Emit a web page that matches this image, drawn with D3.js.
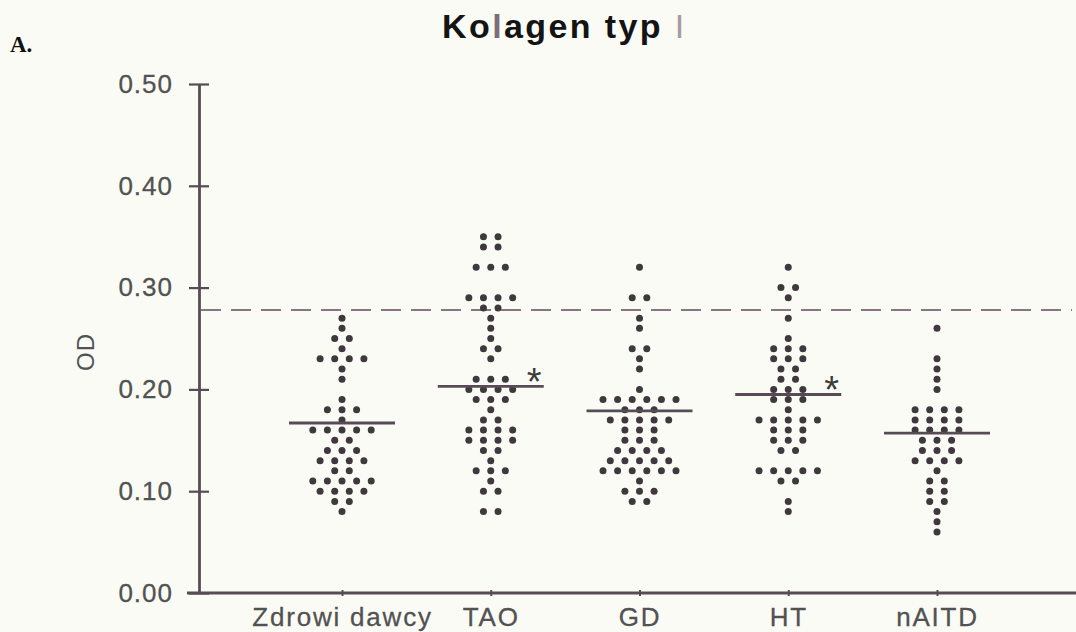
<!DOCTYPE html>
<html>
<head>
<meta charset="utf-8">
<script src="https://cdn.jsdelivr.net/npm/d3@7"></script>
<style>
  html, body { margin: 0; padding: 0; background: #fbfbf6; }
  svg { display: block; }
</style>
</head>
<body>
<svg id="chart" width="1076" height="632"></svg>
<script>
const categories = ['Zdrowi dawcy', 'TAO', 'GD', 'HT', 'nAITD']

// OD values, one entry per dot
const zdrowiDawcy = [
  0.27, 0.26, 0.25, 0.25, 0.24, 0.23, 0.23, 0.23, 0.23, 0.22, 0.21,
  0.19, 0.18, 0.18, 0.18, 0.17, 0.16, 0.16, 0.16, 0.16, 0.16,
  0.15, 0.15, 0.14, 0.14, 0.14, 0.13, 0.13, 0.13, 0.13, 0.12, 0.12,
  0.11, 0.11, 0.11, 0.11, 0.11, 0.10, 0.10, 0.10, 0.10, 0.09, 0.09, 0.08
]
const tao = [
  0.35, 0.35, 0.34, 0.34, 0.32, 0.32, 0.32, 0.29, 0.29, 0.29, 0.29,
  0.28, 0.28, 0.27, 0.26, 0.25, 0.24, 0.24, 0.23, 0.21, 0.21, 0.21,
  0.20, 0.20, 0.20, 0.20, 0.19, 0.19, 0.19, 0.18, 0.17, 0.17,
  0.16, 0.16, 0.16, 0.16, 0.15, 0.15, 0.15, 0.15, 0.14, 0.14, 0.13,
  0.12, 0.12, 0.12, 0.11, 0.10, 0.10, 0.08, 0.08
]
const gd = [
  0.32, 0.29, 0.29, 0.27, 0.26, 0.24, 0.24, 0.23, 0.22, 0.20,
  0.19, 0.19, 0.19, 0.19, 0.19, 0.19, 0.18, 0.18, 0.18,
  0.17, 0.17, 0.17, 0.17, 0.17, 0.16, 0.16, 0.16, 0.15, 0.15, 0.15,
  0.14, 0.14, 0.14, 0.14, 0.13, 0.13, 0.13, 0.13, 0.13,
  0.12, 0.12, 0.12, 0.12, 0.12, 0.12, 0.11, 0.10, 0.10, 0.10, 0.09, 0.09
]
const ht = [
  0.32, 0.30, 0.30, 0.29, 0.27, 0.25, 0.24, 0.24, 0.24, 0.23, 0.23, 0.23,
  0.22, 0.22, 0.21, 0.21, 0.20, 0.20, 0.20, 0.19, 0.19, 0.19, 0.18,
  0.17, 0.17, 0.17, 0.17, 0.17, 0.16, 0.16, 0.16, 0.15, 0.15, 0.15,
  0.14, 0.14, 0.12, 0.12, 0.12, 0.12, 0.12, 0.11, 0.11, 0.09, 0.08
]
const nAitd = [
  0.26, 0.23, 0.22, 0.21, 0.20, 0.18, 0.18, 0.18, 0.18,
  0.17, 0.17, 0.17, 0.17, 0.16, 0.16, 0.16, 0.16, 0.15, 0.15, 0.15,
  0.14, 0.14, 0.14, 0.13, 0.13, 0.13, 0.13, 0.12, 0.11, 0.11,
  0.10, 0.10, 0.09, 0.09, 0.08, 0.07, 0.06
]
const groups = [zdrowiDawcy, tao, gd, ht, nAitd]

// group mean lines, and which groups carry an asterisk
const means = [0.167, 0.203, 0.179, 0.195, 0.157]
const significant = ['TAO', 'HT']
const cutoff = 0.278
const yTicks = [0, 0.1, 0.2, 0.3, 0.4, 0.5]

const width = 1076
const axisX = 199
const dotGap = 14.6
const font = "'Liberation Sans', Arial, Helvetica, sans-serif"
const axisColor = '#574c55'
const textColor = '#525252'

const svg = d3.select('#chart')
svg.append('rect').attr('width', width).attr('height', 632).attr('fill', '#fbfbf6')

const x = d3.scalePoint().domain(categories).range([342, 937])
const y = d3.scaleLinear().domain([0, 0.5]).range([593, 84])

// cut-off line
svg.append('line')
  .attr('x1', axisX + 2).attr('x2', 1072)
  .attr('y1', y(cutoff)).attr('y2', y(cutoff))
  .attr('stroke', '#8a7683')
  .attr('stroke-width', 2)
  .attr('stroke-dasharray', '20 10')

// y axis, ticks crossing the line
const gy = svg.append('g')
  .attr('transform', `translate(${axisX},0)`)
  .call(d3.axisLeft(y).tickValues(yTicks).tickFormat(d3.format('.2f'))
    .tickSize(10).tickSizeOuter(0).tickPadding(16))
gy.select('.domain').attr('stroke', axisColor).attr('stroke-width', 2.8)
gy.selectAll('.tick line').attr('x1', 10).attr('x2', -10)
  .attr('stroke', axisColor).attr('stroke-width', 2.2)
gy.selectAll('.tick text')
  .attr('font-family', font).attr('font-size', 26)
  .attr('letter-spacing', 1).attr('fill', textColor)
  .attr('stroke', textColor).attr('stroke-width', 0.3)

// x axis
svg.append('line')
  .attr('x1', axisX - 12).attr('x2', width)
  .attr('y1', y(0)).attr('y2', y(0))
  .attr('stroke', axisColor).attr('stroke-width', 2.8)
const gx = svg.append('g')
  .attr('transform', `translate(0,${y(0)})`)
  .call(d3.axisBottom(x).tickSize(3).tickPadding(12).tickSizeOuter(0))
gx.select('.domain').remove()
gx.selectAll('.tick line').attr('y1', -3).attr('y2', 3)
  .attr('stroke', axisColor).attr('stroke-width', 2)
gx.selectAll('.tick text')
  .attr('font-family', font).attr('font-size', 26)
  .attr('letter-spacing', 1.8).attr('fill', textColor)
  .attr('stroke', textColor).attr('stroke-width', 0.3)

// dots, one row per value, spread around the category centre
const points = []
groups.forEach((vals, gi) => {
  d3.group(vals, v => v).forEach((row, v) => {
    row.forEach((_, i) => points.push({
      cat: categories[gi],
      value: v,
      offset: (i - (row.length - 1) / 2) * dotGap
    }))
  })
})
svg.append('g').selectAll('circle')
  .data(points)
  .join('circle')
  .attr('cx', d => x(d.cat) + d.offset)
  .attr('cy', d => y(d.value))
  .attr('r', 3.5)
  .attr('fill', '#3f393e')

// mean lines
svg.append('g').selectAll('line')
  .data(categories)
  .join('line')
  .attr('x1', d => x(d) - 53).attr('x2', d => x(d) + 53)
  .attr('y1', (d, i) => y(means[i])).attr('y2', (d, i) => y(means[i]))
  .attr('stroke', '#574c55')
  .attr('stroke-width', 2.8)

svg.append('g').selectAll('text')
  .data(significant)
  .join('text')
  .attr('x', d => x(d) + 36)
  .attr('y', d => y(means[categories.indexOf(d)]) + 9)
  .attr('font-family', font).attr('font-size', 38)
  .attr('fill', '#3c3c3c')
  .text('*')

// axis title
svg.append('text')
  .attr('transform', 'translate(94,352) rotate(-90)')
  .attr('text-anchor', 'middle')
  .attr('font-family', font).attr('font-size', 24)
  .attr('letter-spacing', 1)
  .attr('fill', textColor)
  .text('OD')

// chart title
const title = svg.append('text')
  .attr('x', 442).attr('y', 38)
  .attr('font-family', font).attr('font-size', 34)
  .attr('font-weight', 'bold')
  .attr('letter-spacing', 2.4)
  .attr('fill', '#141414')
title.append('tspan').text('Ko')
title.append('tspan').attr('fill', '#7d6e78').text('l')
title.append('tspan').text('agen typ ')
title.append('tspan').attr('fill', '#a59aa1').attr('font-weight', 'normal').text('I')

svg.append('text')
  .attr('x', 10).attr('y', 52)
  .attr('font-family', "'Liberation Serif', 'DejaVu Serif', serif")
  .attr('font-weight', 'bold').attr('font-size', 23)
  .attr('fill', '#111')
  .text('A.')
</script>
</body>
</html>
